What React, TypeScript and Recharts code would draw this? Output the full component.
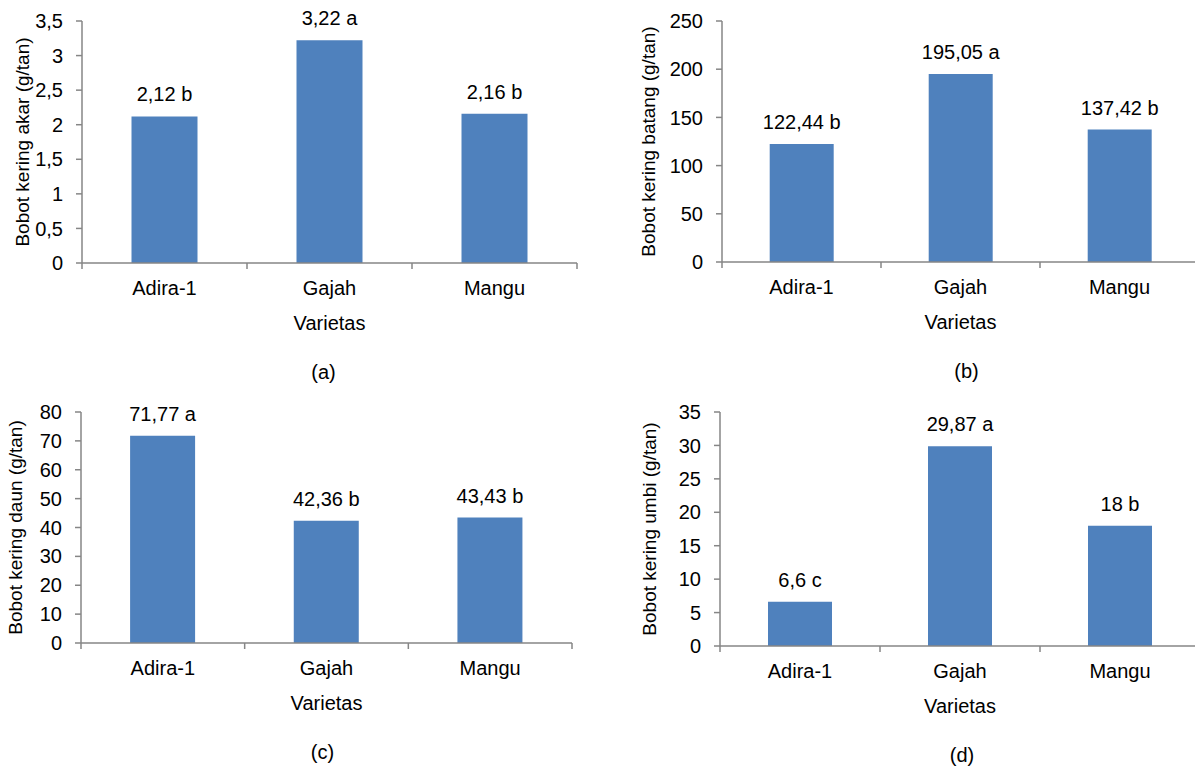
import { Bar, BarChart, LabelList, XAxis, YAxis } from "recharts";

const varieties = ["Adira-1", "Gajah", "Mangu"];

const rootWeight = [2.12, 3.22, 2.16];
const rootLetters = ["b", "a", "b"];
const rootTicks = [0, 0.5, 1, 1.5, 2, 2.5, 3, 3.5];

const stemWeight = [122.44, 195.05, 137.42];
const stemLetters = ["b", "a", "b"];
const stemTicks = [0, 50, 100, 150, 200, 250];

const leafWeight = [71.77, 42.36, 43.43];
const leafLetters = ["a", "b", "b"];
const leafTicks = [0, 10, 20, 30, 40, 50, 60, 70, 80];

const tuberWeight = [6.6, 29.87, 18];
const tuberLetters = ["c", "a", "b"];
const tuberTicks = [0, 5, 10, 15, 20, 25, 30, 35];

const FONT = '"Liberation Sans", Arial, sans-serif';
const AXIS = "#868686";
const BAR = "#4F81BD";
const FS = 20;

const comma = (v: number) => String(v).replace(".", ",");

function buildRows(values: number[], letters: string[]) {
  return varieties.map((name, i) => ({
    name,
    value: values[i],
    label: `${comma(values[i])} ${letters[i]}`,
  }));
}

// category label plus Excel-style tick marks on the band boundaries
function CategoryTick({ x, y, payload, index, half }: any) {
  const h = payload.offset > 0 ? payload.offset : half;
  const last = index === varieties.length - 1;
  return (
    <g>
      <line x1={x - h} x2={x - h} y1={y} y2={y + 6} stroke={AXIS} strokeWidth={1.5} />
      {last && <line x1={x + h} x2={x + h} y1={y} y2={y + 6} stroke={AXIS} strokeWidth={1.5} />}
      <text
        x={x}
        y={y + 18}
        dy="0.71em"
        textAnchor="middle"
        fontSize={FS}
        fontFamily={FONT}
        fill="#000"
      >
        {payload.value}
      </text>
    </g>
  );
}

interface PanelProps {
  left: number;
  top: number;
  width: number;
  height: number;
  axisWidth: number;
  marginTop: number;
  marginRight: number;
  xAxisHeight: number;
  yLabelX: number;
  yTitle: string;
  caption: string;
  captionDx: number;
  ticks: number[];
  values: number[];
  letters: string[];
}

function Panel(p: PanelProps) {
  const rows = buildRows(p.values, p.letters);
  const yMax = p.ticks[p.ticks.length - 1];
  const half = (p.width - p.axisWidth - p.marginRight) / varieties.length / 2;

  return (
    <div style={{ position: "absolute", left: p.left, top: p.top }}>
      <BarChart
        width={p.width}
        height={p.height}
        data={rows}
        barCategoryGap="30%"
        margin={{ top: p.marginTop, right: p.marginRight, bottom: 0, left: 0 }}
      >
        <XAxis
          dataKey="name"
          interval={0}
          height={p.xAxisHeight}
          tickLine={false}
          tickSize={0}
          tickMargin={0}
          tick={(props: any) => <CategoryTick {...props} half={half} />}
          stroke={AXIS}
          strokeWidth={1.5}
          label={{
            content: ({ viewBox }: any) => (
              <g>
                <text
                  x={viewBox.x + viewBox.width / 2}
                  y={viewBox.y + 67}
                  textAnchor="middle"
                  fontSize={FS}
                  fontFamily={FONT}
                  fill="#000"
                >
                  Varietas
                </text>
                <text
                  x={viewBox.x + viewBox.width / 2 + p.captionDx}
                  y={viewBox.y + 116}
                  textAnchor="middle"
                  fontSize={FS}
                  fontFamily={FONT}
                  fill="#000"
                >
                  {p.caption}
                </text>
              </g>
            ),
          }}
        />
        <YAxis
          width={p.axisWidth}
          domain={[0, yMax]}
          ticks={p.ticks}
          interval={0}
          tickFormatter={comma}
          stroke={AXIS}
          strokeWidth={1.5}
          tickSize={6}
          tickMargin={13}
          tick={{ fill: "#000", fontSize: FS, fontFamily: FONT }}
          label={{
            content: ({ viewBox }: any) => {
              const cy = viewBox.y + viewBox.height / 2;
              return (
                <text
                  x={p.yLabelX}
                  y={cy}
                  transform={`rotate(-90, ${p.yLabelX}, ${cy})`}
                  textAnchor="middle"
                  dominantBaseline="central"
                  fontSize={19}
                  fontFamily={FONT}
                  fill="#000"
                >
                  {p.yTitle}
                </text>
              );
            },
          }}
        />
        <Bar dataKey="value" fill={BAR} isAnimationActive={false}>
          <LabelList
            dataKey="label"
            position="top"
            offset={15}
            fill="#000"
            fontSize={FS}
            fontFamily={FONT}
          />
        </Bar>
      </BarChart>
    </div>
  );
}

export default function App() {
  return (
    <div
      style={{
        position: "absolute",
        left: 0,
        top: 0,
        width: 1195,
        height: 778,
        overflow: "hidden",
        background: "#fff",
        fontFamily: FONT,
      }}
    >
      <Panel
        left={0}
        top={0}
        width={595}
        height={390}
        axisWidth={82}
        marginTop={21}
        marginRight={18}
        xAxisHeight={127}
        yLabelX={22}
        yTitle="Bobot kering akar (g/tan)"
        caption="(a)"
        captionDx={-6}
        ticks={rootTicks}
        values={rootWeight}
        letters={rootLetters}
      />
      <Panel
        left={595}
        top={0}
        width={605}
        height={390}
        axisWidth={127}
        marginTop={21}
        marginRight={1}
        xAxisHeight={128}
        yLabelX={53}
        yTitle="Bobot kering batang (g/tan)"
        caption="(b)"
        captionDx={6}
        ticks={stemTicks}
        values={stemWeight}
        letters={stemLetters}
      />
      <Panel
        left={0}
        top={390}
        width={595}
        height={388}
        axisWidth={81}
        marginTop={22}
        marginRight={23}
        xAxisHeight={135}
        yLabelX={15}
        yTitle="Bobot kering daun (g/tan)"
        caption="(c)"
        captionDx={-4}
        ticks={leafTicks}
        values={leafWeight}
        letters={leafLetters}
      />
      <Panel
        left={595}
        top={390}
        width={605}
        height={388}
        axisWidth={125}
        marginTop={22}
        marginRight={0}
        xAxisHeight={132}
        yLabelX={54}
        yTitle="Bobot kering umbi (g/tan)"
        caption="(d)"
        captionDx={2}
        ticks={tuberTicks}
        values={tuberWeight}
        letters={tuberLetters}
      />
    </div>
  );
}
